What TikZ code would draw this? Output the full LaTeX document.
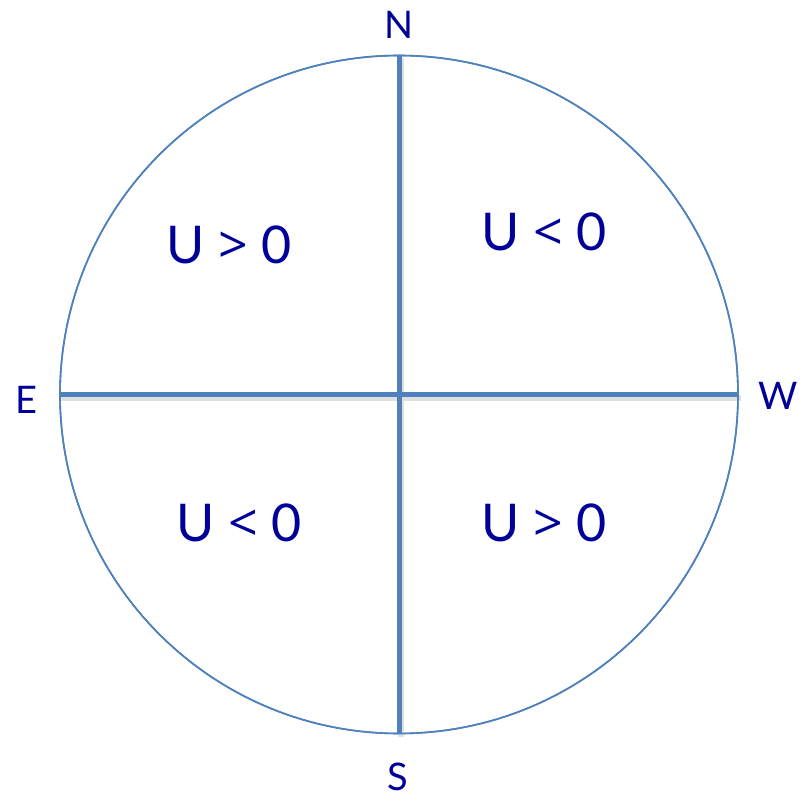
\documentclass[tikz,border=0pt]{standalone}
\usepackage{fontspec}
\setmainfont{Lato}
\newfontfamily\symfont{Open Sans}
\newcommand{\gtsym}{{\symfont >}}
\newcommand{\ltsym}{{\symfont <}}
\definecolor{lineblue}{HTML}{4F81BD}
\definecolor{txtblue}{HTML}{000099}
\tikzset{
  axis/.style={draw=lineblue, line width=5pt},
  axshadow/.style={draw=black!12, line width=6pt},
  ring/.style={draw=lineblue, line width=1.6pt},
  region/.style={text=txtblue, font=\fontsize{52}{56}\selectfont, inner sep=0pt, anchor=center},
  dirlab/.style={text=txtblue, font=\fontsize{38}{42}\selectfont, inner sep=0pt, anchor=center}
}
\begin{document}
\begin{tikzpicture}[x=1pt, y=-1pt]
\useasboundingbox (0,0) rectangle (807,800);
\coordinate (O) at (399,394.5);
\node[circle, ring, minimum size=678pt, inner sep=0pt] (C) at (O) {};
\draw[axshadow] ([xshift=2pt,yshift=-3pt]C.west) -- ([xshift=2pt,yshift=-3pt]C.east);
\draw[axshadow] ([xshift=2pt,yshift=-3pt]C.north) -- ([xshift=2pt,yshift=-3pt]C.south);
\draw[axis] (C.west) -- (C.east);
\draw[axis] (C.north) -- (C.south);
\node[circle, ring, minimum size=678pt, inner sep=0pt] at (O) {};
\node[dirlab] (N) at (399,25) {N};
\node[dirlab] (E) at (26,400) {E};
\node[dirlab] (W) at (778,396) {W};
\node[dirlab] (S) at (398,777) {S};
\node[region] (q1) at (229,245) {U \gtsym{} 0};
\node[region] (q2) at (544,232) {U \ltsym{} 0};
\node[region] (q3) at (239,523) {U \ltsym{} 0};
\node[region] (q4) at (544,523) {U \gtsym{} 0};
\end{tikzpicture}
\end{document}
